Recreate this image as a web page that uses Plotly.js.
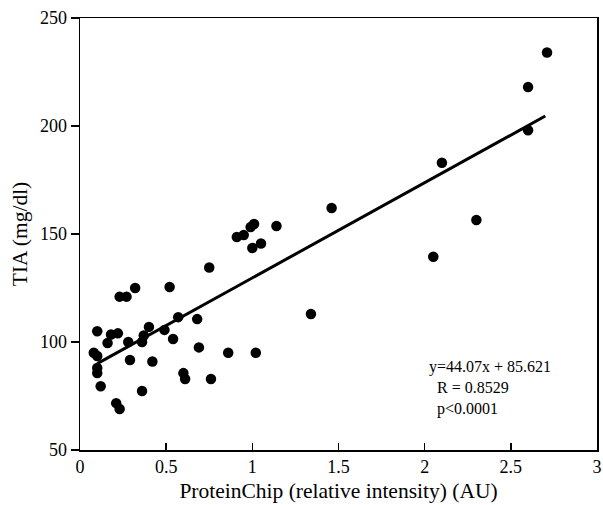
<!DOCTYPE html>
<html>
<head>
<meta charset="utf-8">
<script src="https://cdn.plot.ly/plotly-3.0.1.min.js"></script>
<style>html,body{margin:0;padding:0;background:#fff;}#chart{width:603px;height:505px;}</style>
</head>
<body>
<div id="chart"></div>
<script>
const proteinChip = [0.08,0.10,0.10,0.10,0.10,0.12,0.16,0.18,0.22,0.21,0.23,0.23,0.27,0.32,0.29,0.28,0.36,0.37,0.40,0.42,0.36,0.49,0.52,0.54,0.57,0.60,0.61,0.68,0.69,0.75,0.76,0.86,1.02,0.91,0.95,0.99,1.01,1.00,1.05,1.14,1.34,1.46,2.05,2.10,2.30,2.60,2.60,2.71];
const tia = [95,93.5,105,88,85.6,79.5,99.5,103.5,104,71.7,69,121,121,125,91.7,100,100,103,107,91,77.3,105.6,125.5,101.4,111.5,85.6,82.9,110.6,97.5,134.5,82.9,95,95,148.6,149.5,153.2,154.6,143.5,145.6,153.7,113,162,139.5,183,156.5,198,218,234];
const fitX = [0.1, 2.7];
const fitY = [90.0, 204.6];
const xTicks = [0,0.5,1,1.5,2,2.5,3];
const xTickLabels = ['0','0.5','1','1.5','2','2.5','3'];
const yTicks = [50,100,150,200,250];
const statsLines = ['y=44.07x + 85.621','&#160;&#160;R = 0.8529','&#160;&#160;p&lt;0.0001'];

const font = {family:'Liberation Serif, Times New Roman, serif', color:'#000'};
const traces = [
  {x: proteinChip, y: tia, type:'scatter', mode:'markers', marker:{color:'#000', size:10.5}, showlegend:false, cliponaxis:false},
  {x: fitX, y: fitY, type:'scatter', mode:'lines', line:{color:'#000', width:3}, showlegend:false}
];
const layout = {
  width:603, height:505,
  margin:{l:80, r:6, t:18, b:55},
  paper_bgcolor:'#fff', plot_bgcolor:'#fff',
  font: Object.assign({size:16}, font),
  xaxis:{range:[0,3], tickvals:xTicks, ticktext:xTickLabels, ticks:'inside', ticklen:7, tickwidth:1.5, tickcolor:'#000',
    showline:true, mirror:true, linecolor:'#000', linewidth:1.5, showgrid:false, zeroline:false,
    tickfont:Object.assign({size:18}, font),
    title:{text:'ProteinChip (relative intensity) (AU)', font:Object.assign({size:21.5}, font), standoff:7}},
  yaxis:{range:[50,250], tickvals:yTicks, ticks:'outside', ticklen:8, tickwidth:1.5, tickcolor:'#000',
    showline:true, mirror:true, linecolor:'#000', linewidth:1.5, showgrid:false, zeroline:false,
    tickfont:Object.assign({size:18}, font),
    title:{text:'TIA (mg/dl)', font:Object.assign({size:21.5}, font), standoff:6}},
  annotations:[{xref:'paper', yref:'paper', x:0.671, y:0.218, xanchor:'left', yanchor:'top', align:'left', showarrow:false,
    text: statsLines.join('<br>'), font:Object.assign({size:16}, font)}]
};
Plotly.newPlot('chart', traces, layout, {displayModeBar:false, staticPlot:true});
</script>
</body>
</html>
